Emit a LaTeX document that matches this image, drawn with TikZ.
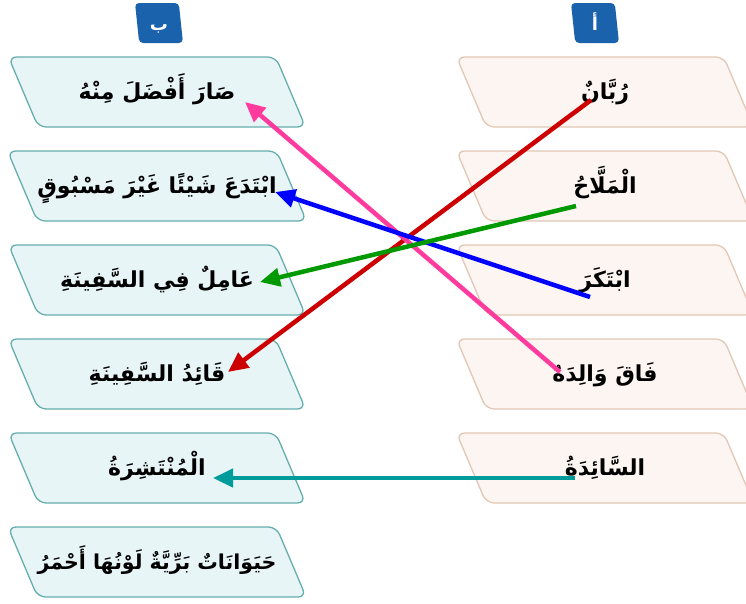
\documentclass[tikz,border=0pt]{standalone}
\usepackage{fontspec}
\newfontfamily\arabicfont[Script=Arabic]{DejaVu Sans}
\TeXXeTstate=1
\usetikzlibrary{shapes.geometric,arrows.meta}

\definecolor{lboxfill}{HTML}{E8F5F7}
\definecolor{lboxdraw}{HTML}{66AEAD}
\definecolor{rboxfill}{HTML}{FCF5F1}
\definecolor{rboxdraw}{HTML}{E2C7B6}
\definecolor{headblue}{HTML}{1B62AD}
\definecolor{linkred}{HTML}{CC0000}
\definecolor{linkpink}{HTML}{FF3C9E}
\definecolor{linkblue}{HTML}{0000FF}
\definecolor{linkgreen}{HTML}{009A00}
\definecolor{linkteal}{HTML}{009B9B}

\newcommand{\artext}[1]{{\arabicfont\bfseries\beginR #1\endR}}

\begin{document}
\begin{tikzpicture}[x=1pt,y=-1pt,
		lboxnode/.style={trapezium, trapezium left angle=113, trapezium right angle=67, trapezium stretches body,
			draw=lboxdraw, fill=lboxfill, line width=1.3pt, rounded corners=8pt,
			text height=42pt, text depth=28pt, minimum width=297pt, inner sep=0pt,
			font=\fontsize{22}{26}\selectfont},
		rboxnode/.style={lboxnode, draw=rboxdraw, fill=rboxfill},
		headnode/.style={trapezium, trapezium left angle=96, trapezium right angle=84, trapezium stretches body,
			fill=headblue, rounded corners=4pt, text height=27pt, text depth=13pt, minimum width=48pt,
			inner sep=0pt, text=white, font=\fontsize{18}{20}\selectfont},
		linkarrow/.style={line width=4.5pt, -{Triangle[length=20pt,width=18pt]}},
		]
		\clip (0,0) rectangle (746,603);
		\fill[white] (0,0) rectangle (746,603);
		%Headers
		\node[headnode]      (hb)       at (159,23)  {\artext{ب}};
		\node[headnode]      (ha)       at (595,23)  {\artext{أ}};
		
		%Left column
		\node[lboxnode]      (b1)       at (157,92)  {\artext{صَارَ أَفْضَلَ مِنْهُ}};
		\node[lboxnode]      (b2)       at (157,186) {\artext{ابْتَدَعَ شَيْئًا غَيْرَ مَسْبُوقٍ}};
		\node[lboxnode]      (b3)       at (157,280) {\artext{عَامِلٌ فِي السَّفِينَةِ}};
		\node[lboxnode]      (b4)       at (157,374) {\artext{قَائِدُ السَّفِينَةِ}};
		\node[lboxnode]      (b5)       at (157,468) {\artext{الْمُنْتَشِرَةُ}};
		\node[lboxnode, font=\fontsize{20.5}{24}\selectfont]
		                     (b6)       at (157,562) {\artext{حَيَوَانَاتٌ بَرِّيَّةٌ لَوْنُهَا أَحْمَرُ}};
		
		%Right column
		\node[rboxnode]      (a1)       at (605,92)  {\artext{رُبَّانٌ}};
		\node[rboxnode]      (a2)       at (605,186) {\artext{الْمَلَّاحُ}};
		\node[rboxnode]      (a3)       at (605,280) {\artext{ابْتَكَرَ}};
		\node[rboxnode]      (a4)       at (605,374) {\artext{فَاقَ وَالِدَهُ}};
		\node[rboxnode]      (a5)       at (605,468) {\artext{السَّائِدَةُ}};
		
		%Lines
		\draw[linkarrow,linkred]   ([xshift=-14pt,yshift=-8pt]a1.center)  -- ([xshift=71pt,yshift=2pt]b4.center);
		\draw[linkarrow,linkpink]  ([xshift=-45pt,yshift=2pt]a4.center)   -- ([xshift=88pt,yshift=-10pt]b1.center);
		\draw[linkarrow,linkblue]  ([xshift=-15pt,yshift=-17pt]a3.center) -- ([xshift=118pt,yshift=-6pt]b2.center);
		\draw[linkarrow,linkgreen] ([xshift=-29pt,yshift=-20pt]a2.center) -- ([xshift=103pt,yshift=-2pt]b3.center);
		\draw[linkarrow,linkteal]  ([xshift=-30pt,yshift=-10pt]a5.center) -- ([xshift=56pt,yshift=-10pt]b5.center);
	\end{tikzpicture}
\end{document}
